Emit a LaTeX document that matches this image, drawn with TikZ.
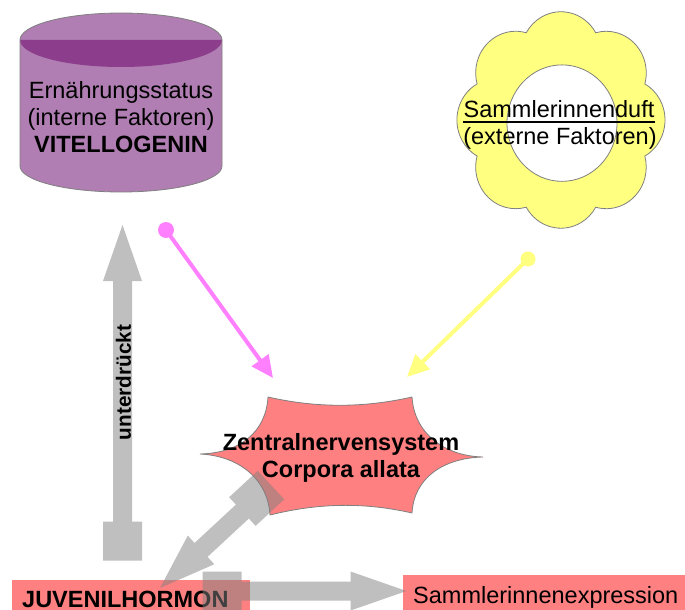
\documentclass[tikz,border=0pt]{standalone}
\usepackage{fontspec}
\setmainfont{Liberation Sans}
\usetikzlibrary{calc,arrows.meta}
\definecolor{purpleL}{RGB}{176,126,178}
\definecolor{purpleD}{RGB}{140,62,140}
\definecolor{flowerY}{RGB}{255,255,128}
\definecolor{salmonR}{RGB}{255,128,128}
\definecolor{pinkA}{RGB}{255,128,255}
\definecolor{edgeG}{RGB}{128,128,128}
\newcommand\fatarrow[2]{%
  \coordinate (#1-a) at ($(#1)!-19.5pt!(#2)$);
  \coordinate (#1-b) at ($(#1)!19.5pt!(#2)$);
  \coordinate (#1-h) at ($(#2)!56pt!(#1)$);
  \fill[fatstyle] ($(#1-a)!19.5pt!90:(#2)$) -- ($(#1-b)!19.5pt!90:(#2)$)
    -- ($(#1-b)!9.5pt!90:(#2)$) -- ($(#1-h)!9.5pt!90:(#2)$)
    -- ($(#1-h)!19.5pt!90:(#2)$) -- (#2)
    -- ($(#1-h)!19.5pt!-90:(#2)$) -- ($(#1-h)!9.5pt!-90:(#2)$)
    -- ($(#1-b)!9.5pt!-90:(#2)$) -- ($(#1-b)!19.5pt!-90:(#2)$)
    -- ($(#1-a)!19.5pt!-90:(#2)$) -- cycle;}
\begin{document}
\begin{tikzpicture}[x=1pt,y=-1pt,
  txt/.style={font=\fontsize{23.5}{27}\selectfont, inner sep=0pt, anchor=base},
  btxt/.style={font=\fontsize{23.5}{27}\selectfont\bfseries, inner sep=0pt, anchor=base},
  shapeedge/.style={draw=edgeG, line width=0.8pt},
  fatstyle/.style={fill=black!50, fill opacity=0.5},
  dotnode/.style={circle, inner sep=0pt, minimum size=16pt},
  thinarrow/.style={line width=4pt, -{Triangle[length=22pt,width=20pt]}}]

\path[use as bounding box] (0,0) rectangle (685,610);
\clip (0,0) rectangle (685,610);
\fill[white] (0,0) rectangle (685,610);

% cylinder
\fill[purpleL] (20,40) -- (20,166) arc[start angle=180,end angle=360,x radius=101pt,y radius=26pt]
  -- (222,40) arc[start angle=0,end angle=180,x radius=101pt,y radius=27pt] -- cycle;
\fill[purpleD] (20,40) arc[start angle=180,end angle=360,x radius=101pt,y radius=27pt] -- cycle;
\draw[shapeedge] (20,40) -- (20,166) arc[start angle=180,end angle=360,x radius=101pt,y radius=26pt]
  -- (222,40) arc[start angle=0,end angle=180,x radius=101pt,y radius=27pt] -- cycle;
\node[txt] (cyl1) at (121,98.5) {Ernährungsstatus};
\node[txt] (cyl2) at (121,125.5) {(interne Faktoren)};
\node[btxt] (cyl3) at (121,152.5) {VITELLOGENIN};

% flower
\begin{scope}[shift={(561,120)}, yscale=1.04]
\path[fill=flowerY, shapeedge, even odd rule] (-22.5:90.75pt)
  arc[start angle=-60.3, end angle=60.3, radius=40pt]
  \foreach \k in {1,...,7}{ arc[start angle=45*\k-60.3, end angle=45*\k+60.3, radius=40pt] }
  -- cycle
  (1,3) ellipse[x radius=55pt, y radius=56pt];
\end{scope}
\node[txt] (duft1) at (559,117) {Sammlerinnenduft};
\draw[line width=1.6pt] ($(duft1.base west)+(0,5)$) -- ($(duft1.base east)+(0,5)$);
\node[txt] (duft2) at (560,144.5) {(externe Faktoren)};

% star
\path[fill=salmonR, shapeedge] (268,397) .. controls (316,408) and (364,408) .. (412,397)
  .. controls (414,432) and (443,456) .. (483,457)
  .. controls (443,458) and (414,478) .. (412,513)
  .. controls (364,502) and (318,503) .. (270,515)
  .. controls (268,480) and (240,456) .. (200,454)
  .. controls (240,453) and (266,432) .. (268,397) -- cycle;
\node[btxt] (zns1) at (341,450) {Zentralnervensystem};
\node[btxt] (zns2) at (341,477) {Corpora allata};

% boxes
\node[fill=salmonR, inner sep=0pt, minimum width=238pt, minimum height=40pt, anchor=north west] (jhbox) at (12,580) {};
\node[btxt, anchor=base west] (jh) at (22,607) {JUVENILHORMON};
\node[fill=salmonR, inner sep=0pt, minimum width=290pt, minimum height=40pt, anchor=north west] (sebox) at (403,575) {};
\node[txt, anchor=base west] (se) at (413,603) {Sammlerinnenexpression};

% thin arrows
\coordinate (pinkT) at (273,378);
\draw[pinkA, thinarrow] (166,230) coordinate (pinkS) -- (pinkT);
\node[dotnode, fill=pinkA] (pinkD) at (pinkS) {};
\coordinate (yelT) at (407,377);
\draw[flowerY, thinarrow] (528,259) coordinate (yelS) -- (yelT);
\node[dotnode, fill=flowerY, minimum size=15pt] (yelD) at (yelS) {};

% fat grey arrows
\coordinate (supS) at (122.5,541);
\coordinate (supT) at (122.5,225);
\fatarrow{supS}{supT}
\node[font=\fontsize{20.7}{24}\selectfont\bfseries, inner sep=0pt, rotate=90] (unt) at (123.5,382.5) {unterdrückt};
\coordinate (diaS) at (256.7,498.3);
\coordinate (diaT) at (160,588);
\fatarrow{diaS}{diaT}
\coordinate (horS) at (222.2,591);
\coordinate (horT) at (406.5,591);
\fatarrow{horS}{horT}
\end{tikzpicture}
\end{document}
